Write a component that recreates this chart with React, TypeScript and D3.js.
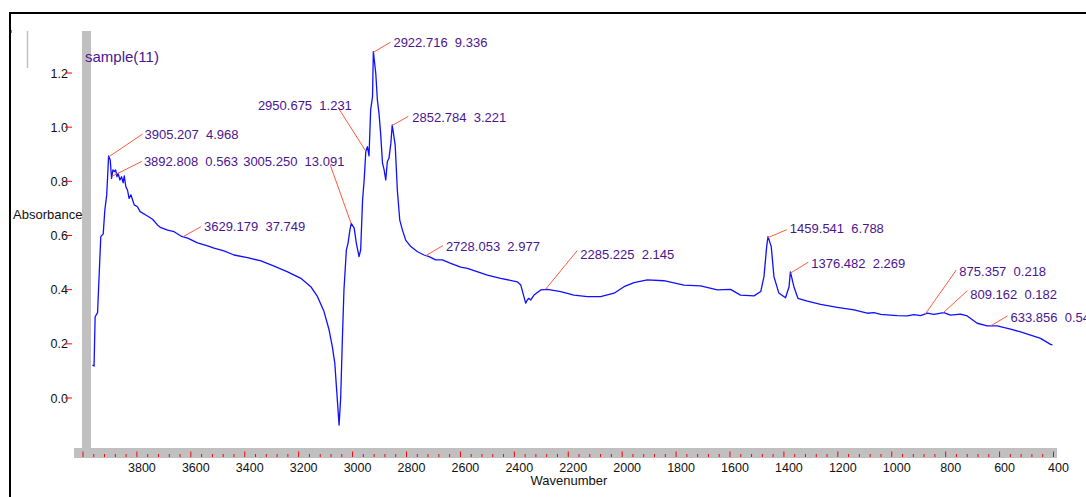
import * as d3 from "d3";

// spectrum: wavenumber (cm-1) and absorbance
const wavenumbers = [
  3965, 3959, 3955, 3946, 3934, 3925, 3919, 3912, 3905, 3899, 3894, 3889, 3884, 3879, 3874, 3870,
  3863, 3857, 3851, 3847, 3841, 3835, 3829, 3822, 3816, 3810, 3798, 3788, 3761, 3742, 3724, 3711,
  3686, 3662, 3637, 3612, 3575, 3538, 3514, 3477, 3440, 3390, 3340, 3291, 3241, 3192, 3155, 3130,
  3106, 3087, 3075, 3066, 3060, 3050, 3044, 3038, 3032, 3023, 3017, 3010, 3005, 2994, 2986, 2976,
  2970, 2963, 2957, 2951, 2945, 2939, 2933, 2926, 2923, 2914, 2908, 2902, 2896, 2889, 2883, 2877,
  2871, 2865, 2858, 2853, 2842, 2834, 2825, 2815, 2803, 2784, 2759, 2735, 2716, 2692, 2667, 2636,
  2599, 2574, 2500, 2451, 2389, 2376, 2366, 2358, 2352, 2346, 2339, 2327, 2302, 2277, 2228, 2179,
  2129, 2080, 2030, 1993, 1956, 1907, 1845, 1771, 1709, 1647, 1598, 1561, 1511, 1486, 1474, 1464,
  1459, 1447, 1437, 1419, 1394, 1381, 1376, 1363, 1348, 1313, 1264, 1202, 1140, 1091, 1066, 1041,
  980, 942, 918, 893, 868, 844, 807, 782, 745, 720, 683, 646, 609, 559, 522, 485, 448, 411, 404,
];
const absorbance = [
  0.122, 0.118, 0.300, 0.315, 0.596, 0.606, 0.694, 0.750, 0.894, 0.879, 0.811, 0.842, 0.836, 0.842, 0.817, 0.830,
  0.805, 0.817, 0.794, 0.820, 0.780, 0.768, 0.737, 0.750, 0.731, 0.713, 0.706, 0.688, 0.672, 0.660, 0.639, 0.629,
  0.620, 0.614, 0.598, 0.590, 0.573, 0.562, 0.553, 0.543, 0.528, 0.518, 0.506, 0.487, 0.466, 0.442, 0.411, 0.374,
  0.319, 0.251, 0.189, 0.129, 0.042, -0.100, 0.005, 0.214, 0.399, 0.547, 0.571, 0.620, 0.645, 0.627, 0.571, 0.522,
  0.547, 0.731, 0.805, 0.910, 0.928, 0.894, 1.064, 1.113, 1.279, 1.199, 1.100, 1.051, 0.977, 0.867, 0.842, 0.805,
  0.873, 0.885, 0.941, 1.008, 0.934, 0.768, 0.657, 0.620, 0.583, 0.559, 0.540, 0.528, 0.522, 0.510, 0.510, 0.497,
  0.483, 0.479, 0.454, 0.442, 0.429, 0.417, 0.380, 0.350, 0.362, 0.368, 0.362, 0.380, 0.399, 0.401, 0.393, 0.380,
  0.374, 0.374, 0.387, 0.411, 0.426, 0.436, 0.433, 0.417, 0.414, 0.399, 0.401, 0.380, 0.377, 0.393, 0.448, 0.559,
  0.596, 0.559, 0.448, 0.388, 0.370, 0.411, 0.466, 0.411, 0.368, 0.358, 0.346, 0.335, 0.325, 0.313, 0.315, 0.309,
  0.304, 0.303, 0.308, 0.304, 0.313, 0.309, 0.315, 0.306, 0.310, 0.303, 0.276, 0.266, 0.266, 0.254, 0.244, 0.232, 0.220, 0.198, 0.196,
];

// peak picks as printed on the chart
const peakPositions = [
  3905.207, 3892.808, 3629.179, 3005.25, 2950.675, 2922.716, 2852.784, 2728.053, 2285.225, 1459.541, 1376.482,
  875.357, 809.162, 633.856,
];
const peakLabels = [
  "3905.207  4.968", "3892.808  0.563", "3629.179  37.749", "3005.250  13.091", "2950.675  1.231",
  "2922.716  9.336", "2852.784  3.221", "2728.053  2.977", "2285.225  2.145", "1459.541  6.788",
  "1376.482  2.269", "875.357  0.218", "809.162  0.182", "633.856  0.54",
];
// leader end offset [dx, dy] from the peak, then text offset [tx, ty] from the leader end
const labelLayout = [
  [34, -23, 2, 0], [30, -15, 2, 0], [18, -10, 3, 0], [-21, -59, -87, -3], [-28, -44, -80, -2],
  [17, -10, 3, 0], [16, -9, 4, 1], [17, -10, 3, 1], [32, -39, 3, 4], [19, -8, 3, -1],
  [18, -11, 3, 1], [31, -44, 3, 1], [24, -22, 3, 4], [17, -10, 3, 1],
];

const xTicks = [3800, 3600, 3400, 3200, 3000, 2800, 2600, 2400, 2200, 2000, 1800, 1600, 1400, 1200, 1000, 800, 600, 400];
const yTicks = [0.0, 0.2, 0.4, 0.6, 0.8, 1.0, 1.2];

const width = 1086;
const height = 497;
const font = "Arial, 'Liberation Sans', sans-serif";
const purple = "#4b1490";
const leader = "#ff5a3c";
const grey = "#c0c0c0";

export default function App() {
  const x = d3.scaleLinear([4000, 400], [83, 1053.5]);
  const y = d3.scaleLinear([0, 1.2], [398, 73]);

  const pts = wavenumbers.map((w, i) => [w, absorbance[i]] as [number, number]);
  const line = d3.line<[number, number]>().x(d => x(d[0])).y(d => y(d[1]));

  // absorbance at a peak position
  const asc = pts.slice().reverse();
  const at = (w: number) => {
    const i = d3.bisector((d: [number, number]) => d[0]).left(asc, w);
    const a = asc[Math.max(0, i - 1)], b = asc[Math.min(asc.length - 1, i)];
    if (a[0] === b[0]) return a[1];
    return a[1] + (b[1] - a[1]) * (w - a[0]) / (b[0] - a[0]);
  };

  const minorTicks = d3.range(400, 4001, 40);

  return (
    <svg width={width} height={height} style={{ position: "absolute", left: 0, top: 0, background: "#fff" }}
         fontFamily={font}>
      {/* frame */}
      <line x1={9} x2={width} y1={13} y2={13} stroke="#000" strokeWidth={2}/>
      <line x1={10} x2={10} y1={12} y2={height} stroke="#000" strokeWidth={2}/>
      <line x1={27.5} x2={27.5} y1={31} y2={68} stroke={grey} strokeWidth={1.5}/>
      <line x1={11.5} x2={11.5} y1={30} y2={33} stroke="#888" strokeWidth={1}/>

      {/* grey axis bars */}
      <rect x={82} y={31} width={9} height={427} fill={grey}/>
      <rect x={74} y={448} width={983} height={10} fill={grey}/>

      {/* x ticks */}
      {minorTicks.map(t => (
        <line key={"m" + t} x1={x(t)} x2={x(t)} y1={t % 200 === 0 ? 451.5 : 454} y2={457}
              stroke="#ff0000" strokeWidth={1}/>
      ))}
      {xTicks.map(t => (
        <text key={"xl" + t} x={x(t) + 5} y={472} fontSize={12.5} textAnchor="middle" fill="#111">{t}</text>
      ))}
      <text x={569} y={485} fontSize={13} textAnchor="middle" fill="#111">Wavenumber</text>

      {/* y ticks */}
      {yTicks.map(t => (
        <g key={"y" + t}>
          <text x={68} y={y(t) + 4.5} fontSize={12.5} textAnchor="end" fill="#111">{t.toFixed(1)}</text>
          <line x1={65} x2={72} y1={y(t)} y2={y(t)} stroke="#ff0000" strokeWidth={1}/>
        </g>
      ))}
      <text x={13} y={219} fontSize={13} fill="#111">Absorbance</text>

      <text x={85} y={62} fontSize={15} fill={purple}>sample(11)</text>

      {/* spectrum */}
      <path d={line(pts) ?? ""} fill="none" stroke="#1010ff" strokeWidth={1.3} strokeLinejoin="round"/>

      {/* peak annotations */}
      {peakPositions.map((p, i) => {
        const [dx, dy, tx, ty] = labelLayout[i];
        const px = x(p), py = y(at(p));
        const ex = px + dx, ey = py + dy;
        return (
          <g key={"p" + i}>
            <line x1={px} y1={py} x2={ex} y2={ey} stroke={leader} strokeWidth={1}/>
            <text x={ex + tx} y={ey + ty + 4.7} fontSize={13} fill={purple} style={{ whiteSpace: "pre" }}>
              {peakLabels[i]}
            </text>
          </g>
        );
      })}
    </svg>
  );
}
